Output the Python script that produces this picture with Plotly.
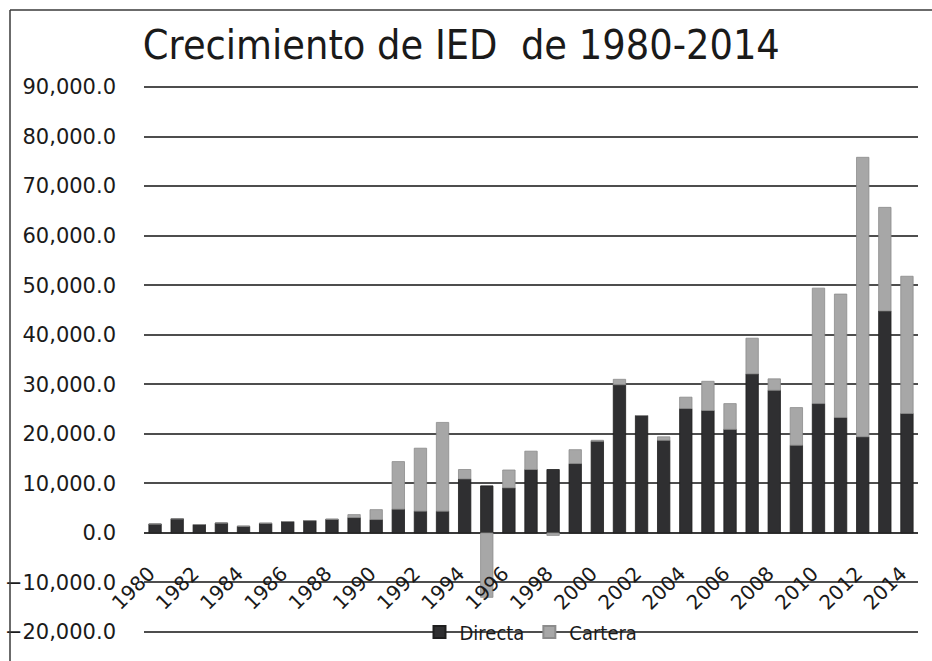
import plotly.graph_objects as go

years = list(range(1980, 2015))
directa = [1800, 2850, 1700, 2000, 1350, 1950, 2300, 2500, 2750, 3100,
           2700, 4800, 4400, 4400, 10900, 9500, 9100, 12800, 12800, 14000,
           18500, 29900, 23700, 18700, 25100, 24700, 20900, 32100, 28800, 17700,
           26100, 23300, 19400, 44800, 24100]
cartera = [0, 0, 0, 0, 0, 0, 0, 0, 0, 600,
           2000, 9600, 12700, 17900, 1900, -13000, 3600, 3700, -500, 2800,
           200, 1100, 0, 700, 2300, 5900, 5200, 7200, 2300, 7600,
           23300, 24900, 56400, 20900, 27700]
tick_years = list(range(1980, 2015, 2))
y_ticks = list(range(-20000, 90001, 10000))

title_text = "Crecimiento de IED  de 1980-2014"
narrow = "DejaVu Sans Condensed, Liberation Sans Narrow, Liberation Sans, sans-serif"
wide = "DejaVu Sans, Verdana, sans-serif"

fig = go.Figure()
fig.add_trace(go.Bar(x=years, y=directa, name="Directa",
                     marker=dict(color="#2f2f31", line=dict(color="#1e1e1e", width=0.8))))
fig.add_trace(go.Bar(x=years, y=cartera, name="Cartera",
                     marker=dict(color="#a7a7a7", line=dict(color="#8c8c8c", width=0.8))))

W, H = 932, 661
ymin, ymax, pad = -20000, 90000, 1000
L, R, T, B = 144, 14, 82, 24
pw, ph = W - L - R, H - T - B
lo, hi = ymin - pad, ymax + pad

fig.update_layout(
    width=W, height=H,
    margin=dict(l=L, r=R, t=T, b=B, pad=0, autoexpand=False),
    paper_bgcolor="white", plot_bgcolor="white",
    barmode="relative", bargap=0.44,
    title=dict(text=title_text, x=0.495, xref="container", xanchor="center",
               y=1 - 45 / H, yref="container", yanchor="middle",
               font=dict(family=narrow, size=41, color="#1a1a1a")),
    showlegend=True,
    legend=dict(orientation="h", x=0.5, xanchor="center",
                y=(ymin - lo) / (hi - lo), yanchor="middle",
                bgcolor="rgba(0,0,0,0)", font=dict(family=narrow, size=20, color="#1a1a1a"),
                itemwidth=30, tracegroupgap=0, itemsizing="constant"),
    xaxis=dict(range=[1979.5, 2014.5], tickmode="array", tickvals=tick_years,
               ticktext=[str(v) for v in tick_years], tickangle=-45,
               anchor="free", position=(0 - lo) / (hi - lo), automargin=False,
               showgrid=False, zeroline=False, showline=False, ticks="",
               ticklabelstandoff=24, ticklabelshift=-6,
               tickfont=dict(family=wide, size=20, color="#1a1a1a")),
    yaxis=dict(range=[lo, hi], tickmode="array", tickvals=y_ticks, automargin=False,
               tickformat=",.1f", showgrid=True, gridcolor="#4e4e4e", gridwidth=1.6,
               zeroline=True, zerolinecolor="#3a3a3a", zerolinewidth=1.8,
               showline=False, ticks="", ticklabelstandoff=27,
               tickfont=dict(family=wide, size=21, color="#1a1a1a")),
)

# outer chart frame (left and top edges)
fx = (10 - L) / pw
fy = (H - B - 10) / ph
fig.add_shape(type="line", xref="paper", yref="paper", x0=fx, x1=fx, y0=fy, y1=-B / ph - 0.01,
              line=dict(color="#3a3a3a", width=1.5))
fig.add_shape(type="line", xref="paper", yref="paper", x0=fx, x1=(W - L) / pw + 0.01, y0=fy, y1=fy,
              line=dict(color="#3a3a3a", width=1.5))

fig.write_html("out.html")
